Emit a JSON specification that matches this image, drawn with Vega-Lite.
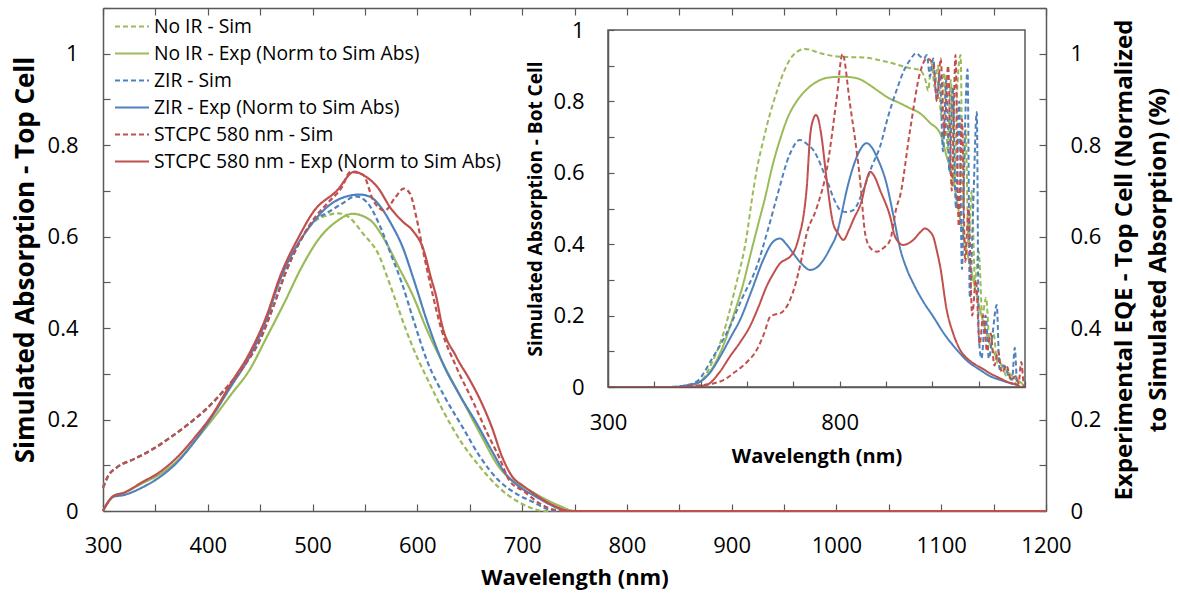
{
  "$schema": "https://vega.github.io/schema/vega-lite/v6.json",
  "width": 943,
  "height": 503,
  "autosize": {"type": "none"},
  "padding": {"left": 103, "top": 8, "right": 134, "bottom": 86},
  "background": "white",
  "config": {
    "view": {"stroke": null},
    "font": "Open Sans",
    "axis": {"grid": false, "labelFont": "Open Sans", "labelFontSize": 22, "labelColor": "#000", "domainColor": "#595959", "domainWidth": 1.5, "tickColor": "#595959", "tickWidth": 1.2, "titleFont": "Open Sans", "titleFontWeight": "bold", "titleColor": "#000", "labelOverlap": false, "labelFlush": false},
    "legend": {"orient": "none", "legendX": 11, "legendY": 5, "labelFont": "Open Sans", "labelFontSize": 19.3, "labelColor": "#000", "symbolType": "stroke", "symbolSize": 1156, "symbolStrokeWidth": 2, "labelOffset": 4, "clipHeight": 27, "rowPadding": 0, "padding": 0, "labelLimit": 600}
  },
  "datasets": {
    "frame": [{"x": 300, "x2": 1200, "y": 0, "y2": 1}],
    "top": [
      {"s": "No IR - Sim", "x": 300, "y": 0.051}, {"s": "No IR - Sim", "x": 305, "y": 0.077}, {"s": "No IR - Sim", "x": 313, "y": 0.095}, {"s": "No IR - Sim", "x": 330, "y": 0.114}, {"s": "No IR - Sim", "x": 348, "y": 0.136}, {"s": "No IR - Sim", "x": 365, "y": 0.162}, {"s": "No IR - Sim", "x": 382, "y": 0.191}, {"s": "No IR - Sim", "x": 399, "y": 0.224}, {"s": "No IR - Sim", "x": 416, "y": 0.265}, {"s": "No IR - Sim", "x": 433, "y": 0.312}, {"s": "No IR - Sim", "x": 450, "y": 0.375}, {"s": "No IR - Sim", "x": 463, "y": 0.45}, {"s": "No IR - Sim", "x": 474, "y": 0.52}, {"s": "No IR - Sim", "x": 487, "y": 0.585}, {"s": "No IR - Sim", "x": 500, "y": 0.63},
      {"s": "No IR - Sim", "x": 512, "y": 0.645}, {"s": "No IR - Sim", "x": 525, "y": 0.651}, {"s": "No IR - Sim", "x": 535, "y": 0.642}, {"s": "No IR - Sim", "x": 548, "y": 0.607}, {"s": "No IR - Sim", "x": 564, "y": 0.556}, {"s": "No IR - Sim", "x": 572, "y": 0.507}, {"s": "No IR - Sim", "x": 579, "y": 0.462}, {"s": "No IR - Sim", "x": 589, "y": 0.397}, {"s": "No IR - Sim", "x": 600, "y": 0.335}, {"s": "No IR - Sim", "x": 610, "y": 0.287}, {"s": "No IR - Sim", "x": 626, "y": 0.213}, {"s": "No IR - Sim", "x": 643, "y": 0.147}, {"s": "No IR - Sim", "x": 660, "y": 0.096}, {"s": "No IR - Sim", "x": 678, "y": 0.051}, {"s": "No IR - Sim", "x": 695, "y": 0.022}, {"s": "No IR - Sim", "x": 712, "y": 0.004}, {"s": "No IR - Sim", "x": 720, "y": 0}, {"s": "No IR - Sim", "x": 1200, "y": 0},

      {"s": "No IR - Exp (Norm to Sim Abs)", "x": 300, "y": 0}, {"s": "No IR - Exp (Norm to Sim Abs)", "x": 305, "y": 0.02}, {"s": "No IR - Exp (Norm to Sim Abs)", "x": 310, "y": 0.033}, {"s": "No IR - Exp (Norm to Sim Abs)", "x": 320, "y": 0.04}, {"s": "No IR - Exp (Norm to Sim Abs)", "x": 337, "y": 0.06}, {"s": "No IR - Exp (Norm to Sim Abs)", "x": 354, "y": 0.08}, {"s": "No IR - Exp (Norm to Sim Abs)", "x": 371, "y": 0.11}, {"s": "No IR - Exp (Norm to Sim Abs)", "x": 388, "y": 0.154}, {"s": "No IR - Exp (Norm to Sim Abs)", "x": 405, "y": 0.202}, {"s": "No IR - Exp (Norm to Sim Abs)", "x": 422, "y": 0.254}, {"s": "No IR - Exp (Norm to Sim Abs)", "x": 440, "y": 0.309}, {"s": "No IR - Exp (Norm to Sim Abs)", "x": 456, "y": 0.379}, {"s": "No IR - Exp (Norm to Sim Abs)", "x": 473, "y": 0.455}, {"s": "No IR - Exp (Norm to Sim Abs)", "x": 490, "y": 0.535}, {"s": "No IR - Exp (Norm to Sim Abs)", "x": 507, "y": 0.598}, {"s": "No IR - Exp (Norm to Sim Abs)", "x": 524, "y": 0.635}, {"s": "No IR - Exp (Norm to Sim Abs)", "x": 538, "y": 0.65}, {"s": "No IR - Exp (Norm to Sim Abs)", "x": 555, "y": 0.636}, {"s": "No IR - Exp (Norm to Sim Abs)", "x": 569, "y": 0.592}, {"s": "No IR - Exp (Norm to Sim Abs)", "x": 582, "y": 0.534}, {"s": "No IR - Exp (Norm to Sim Abs)", "x": 596, "y": 0.47}, {"s": "No IR - Exp (Norm to Sim Abs)", "x": 609, "y": 0.397}, {"s": "No IR - Exp (Norm to Sim Abs)", "x": 626, "y": 0.316}, {"s": "No IR - Exp (Norm to Sim Abs)", "x": 643, "y": 0.243}, {"s": "No IR - Exp (Norm to Sim Abs)", "x": 660, "y": 0.169}, {"s": "No IR - Exp (Norm to Sim Abs)", "x": 678, "y": 0.096}, {"s": "No IR - Exp (Norm to Sim Abs)", "x": 691, "y": 0.066}, {"s": "No IR - Exp (Norm to Sim Abs)", "x": 705, "y": 0.048}, {"s": "No IR - Exp (Norm to Sim Abs)", "x": 722, "y": 0.026}, {"s": "No IR - Exp (Norm to Sim Abs)", "x": 735, "y": 0.012}, {"s": "No IR - Exp (Norm to Sim Abs)", "x": 750, "y": 0}, {"s": "No IR - Exp (Norm to Sim Abs)", "x": 1200, "y": 0},

      {"s": "ZIR - Sim", "x": 300, "y": 0.051}, {"s": "ZIR - Sim", "x": 305, "y": 0.077}, {"s": "ZIR - Sim", "x": 313, "y": 0.095}, {"s": "ZIR - Sim", "x": 330, "y": 0.114}, {"s": "ZIR - Sim", "x": 348, "y": 0.136}, {"s": "ZIR - Sim", "x": 365, "y": 0.162}, {"s": "ZIR - Sim", "x": 382, "y": 0.191}, {"s": "ZIR - Sim", "x": 399, "y": 0.224}, {"s": "ZIR - Sim", "x": 416, "y": 0.265}, {"s": "ZIR - Sim", "x": 433, "y": 0.312}, {"s": "ZIR - Sim", "x": 450, "y": 0.375}, {"s": "ZIR - Sim", "x": 463, "y": 0.45}, {"s": "ZIR - Sim", "x": 474, "y": 0.52}, {"s": "ZIR - Sim", "x": 487, "y": 0.585}, {"s": "ZIR - Sim", "x": 500, "y": 0.632},
      {"s": "ZIR - Sim", "x": 514, "y": 0.652}, {"s": "ZIR - Sim", "x": 528, "y": 0.672}, {"s": "ZIR - Sim", "x": 541, "y": 0.688}, {"s": "ZIR - Sim", "x": 552, "y": 0.675}, {"s": "ZIR - Sim", "x": 564, "y": 0.625}, {"s": "ZIR - Sim", "x": 575, "y": 0.56}, {"s": "ZIR - Sim", "x": 585, "y": 0.5}, {"s": "ZIR - Sim", "x": 596, "y": 0.42}, {"s": "ZIR - Sim", "x": 609, "y": 0.33}, {"s": "ZIR - Sim", "x": 626, "y": 0.25}, {"s": "ZIR - Sim", "x": 643, "y": 0.184}, {"s": "ZIR - Sim", "x": 660, "y": 0.118}, {"s": "ZIR - Sim", "x": 678, "y": 0.066}, {"s": "ZIR - Sim", "x": 695, "y": 0.037}, {"s": "ZIR - Sim", "x": 712, "y": 0.018}, {"s": "ZIR - Sim", "x": 722, "y": 0.006}, {"s": "ZIR - Sim", "x": 730, "y": 0}, {"s": "ZIR - Sim", "x": 1200, "y": 0},

      {"s": "ZIR - Exp (Norm to Sim Abs)", "x": 300, "y": 0}, {"s": "ZIR - Exp (Norm to Sim Abs)", "x": 305, "y": 0.02}, {"s": "ZIR - Exp (Norm to Sim Abs)", "x": 310, "y": 0.031}, {"s": "ZIR - Exp (Norm to Sim Abs)", "x": 320, "y": 0.035}, {"s": "ZIR - Exp (Norm to Sim Abs)", "x": 337, "y": 0.051}, {"s": "ZIR - Exp (Norm to Sim Abs)", "x": 354, "y": 0.074}, {"s": "ZIR - Exp (Norm to Sim Abs)", "x": 371, "y": 0.107}, {"s": "ZIR - Exp (Norm to Sim Abs)", "x": 388, "y": 0.154}, {"s": "ZIR - Exp (Norm to Sim Abs)", "x": 405, "y": 0.21}, {"s": "ZIR - Exp (Norm to Sim Abs)", "x": 422, "y": 0.272}, {"s": "ZIR - Exp (Norm to Sim Abs)", "x": 440, "y": 0.338}, {"s": "ZIR - Exp (Norm to Sim Abs)", "x": 456, "y": 0.419}, {"s": "ZIR - Exp (Norm to Sim Abs)", "x": 468, "y": 0.5}, {"s": "ZIR - Exp (Norm to Sim Abs)", "x": 480, "y": 0.56}, {"s": "ZIR - Exp (Norm to Sim Abs)", "x": 497, "y": 0.621}, {"s": "ZIR - Exp (Norm to Sim Abs)", "x": 514, "y": 0.665}, {"s": "ZIR - Exp (Norm to Sim Abs)", "x": 531, "y": 0.687}, {"s": "ZIR - Exp (Norm to Sim Abs)", "x": 545, "y": 0.692}, {"s": "ZIR - Exp (Norm to Sim Abs)", "x": 555, "y": 0.687}, {"s": "ZIR - Exp (Norm to Sim Abs)", "x": 565, "y": 0.665}, {"s": "ZIR - Exp (Norm to Sim Abs)", "x": 575, "y": 0.628}, {"s": "ZIR - Exp (Norm to Sim Abs)", "x": 586, "y": 0.577}, {"s": "ZIR - Exp (Norm to Sim Abs)", "x": 596, "y": 0.51}, {"s": "ZIR - Exp (Norm to Sim Abs)", "x": 610, "y": 0.41}, {"s": "ZIR - Exp (Norm to Sim Abs)", "x": 623, "y": 0.33}, {"s": "ZIR - Exp (Norm to Sim Abs)", "x": 640, "y": 0.255}, {"s": "ZIR - Exp (Norm to Sim Abs)", "x": 657, "y": 0.19}, {"s": "ZIR - Exp (Norm to Sim Abs)", "x": 671, "y": 0.132}, {"s": "ZIR - Exp (Norm to Sim Abs)", "x": 684, "y": 0.082}, {"s": "ZIR - Exp (Norm to Sim Abs)", "x": 698, "y": 0.052}, {"s": "ZIR - Exp (Norm to Sim Abs)", "x": 712, "y": 0.033}, {"s": "ZIR - Exp (Norm to Sim Abs)", "x": 725, "y": 0.016}, {"s": "ZIR - Exp (Norm to Sim Abs)", "x": 745, "y": 0}, {"s": "ZIR - Exp (Norm to Sim Abs)", "x": 1200, "y": 0},

      {"s": "STCPC 580 nm - Sim", "x": 300, "y": 0.051}, {"s": "STCPC 580 nm - Sim", "x": 305, "y": 0.077}, {"s": "STCPC 580 nm - Sim", "x": 313, "y": 0.095}, {"s": "STCPC 580 nm - Sim", "x": 330, "y": 0.114}, {"s": "STCPC 580 nm - Sim", "x": 348, "y": 0.136}, {"s": "STCPC 580 nm - Sim", "x": 365, "y": 0.162}, {"s": "STCPC 580 nm - Sim", "x": 382, "y": 0.191}, {"s": "STCPC 580 nm - Sim", "x": 399, "y": 0.224}, {"s": "STCPC 580 nm - Sim", "x": 416, "y": 0.265}, {"s": "STCPC 580 nm - Sim", "x": 433, "y": 0.312}, {"s": "STCPC 580 nm - Sim", "x": 450, "y": 0.375}, {"s": "STCPC 580 nm - Sim", "x": 463, "y": 0.45}, {"s": "STCPC 580 nm - Sim", "x": 474, "y": 0.52}, {"s": "STCPC 580 nm - Sim", "x": 487, "y": 0.585}, {"s": "STCPC 580 nm - Sim", "x": 500, "y": 0.635},
      {"s": "STCPC 580 nm - Sim", "x": 515, "y": 0.675}, {"s": "STCPC 580 nm - Sim", "x": 528, "y": 0.708}, {"s": "STCPC 580 nm - Sim", "x": 536, "y": 0.741}, {"s": "STCPC 580 nm - Sim", "x": 548, "y": 0.736}, {"s": "STCPC 580 nm - Sim", "x": 558, "y": 0.679}, {"s": "STCPC 580 nm - Sim", "x": 569, "y": 0.657}, {"s": "STCPC 580 nm - Sim", "x": 579, "y": 0.686}, {"s": "STCPC 580 nm - Sim", "x": 587, "y": 0.705}, {"s": "STCPC 580 nm - Sim", "x": 593, "y": 0.694}, {"s": "STCPC 580 nm - Sim", "x": 599, "y": 0.643}, {"s": "STCPC 580 nm - Sim", "x": 606, "y": 0.563}, {"s": "STCPC 580 nm - Sim", "x": 613, "y": 0.49}, {"s": "STCPC 580 nm - Sim", "x": 623, "y": 0.397}, {"s": "STCPC 580 nm - Sim", "x": 637, "y": 0.316}, {"s": "STCPC 580 nm - Sim", "x": 654, "y": 0.235}, {"s": "STCPC 580 nm - Sim", "x": 667, "y": 0.169}, {"s": "STCPC 580 nm - Sim", "x": 678, "y": 0.118}, {"s": "STCPC 580 nm - Sim", "x": 688, "y": 0.066}, {"s": "STCPC 580 nm - Sim", "x": 701, "y": 0.044}, {"s": "STCPC 580 nm - Sim", "x": 718, "y": 0.015}, {"s": "STCPC 580 nm - Sim", "x": 730, "y": 0.003}, {"s": "STCPC 580 nm - Sim", "x": 740, "y": 0}, {"s": "STCPC 580 nm - Sim", "x": 1200, "y": 0},

      {"s": "STCPC 580 nm - Exp  (Norm to Sim Abs)", "x": 300, "y": 0}, {"s": "STCPC 580 nm - Exp  (Norm to Sim Abs)", "x": 305, "y": 0.02}, {"s": "STCPC 580 nm - Exp  (Norm to Sim Abs)", "x": 310, "y": 0.033}, {"s": "STCPC 580 nm - Exp  (Norm to Sim Abs)", "x": 320, "y": 0.04}, {"s": "STCPC 580 nm - Exp  (Norm to Sim Abs)", "x": 337, "y": 0.0625}, {"s": "STCPC 580 nm - Exp  (Norm to Sim Abs)", "x": 354, "y": 0.085}, {"s": "STCPC 580 nm - Exp  (Norm to Sim Abs)", "x": 371, "y": 0.118}, {"s": "STCPC 580 nm - Exp  (Norm to Sim Abs)", "x": 388, "y": 0.162}, {"s": "STCPC 580 nm - Exp  (Norm to Sim Abs)", "x": 405, "y": 0.213}, {"s": "STCPC 580 nm - Exp  (Norm to Sim Abs)", "x": 422, "y": 0.279}, {"s": "STCPC 580 nm - Exp  (Norm to Sim Abs)", "x": 440, "y": 0.346}, {"s": "STCPC 580 nm - Exp  (Norm to Sim Abs)", "x": 456, "y": 0.426}, {"s": "STCPC 580 nm - Exp  (Norm to Sim Abs)", "x": 469, "y": 0.513}, {"s": "STCPC 580 nm - Exp  (Norm to Sim Abs)", "x": 487, "y": 0.6}, {"s": "STCPC 580 nm - Exp  (Norm to Sim Abs)", "x": 501, "y": 0.655}, {"s": "STCPC 580 nm - Exp  (Norm to Sim Abs)", "x": 523, "y": 0.7}, {"s": "STCPC 580 nm - Exp  (Norm to Sim Abs)", "x": 540, "y": 0.742}, {"s": "STCPC 580 nm - Exp  (Norm to Sim Abs)", "x": 548, "y": 0.735}, {"s": "STCPC 580 nm - Exp  (Norm to Sim Abs)", "x": 562, "y": 0.708}, {"s": "STCPC 580 nm - Exp  (Norm to Sim Abs)", "x": 575, "y": 0.661}, {"s": "STCPC 580 nm - Exp  (Norm to Sim Abs)", "x": 586, "y": 0.633}, {"s": "STCPC 580 nm - Exp  (Norm to Sim Abs)", "x": 596, "y": 0.612}, {"s": "STCPC 580 nm - Exp  (Norm to Sim Abs)", "x": 606, "y": 0.571}, {"s": "STCPC 580 nm - Exp  (Norm to Sim Abs)", "x": 613, "y": 0.51}, {"s": "STCPC 580 nm - Exp  (Norm to Sim Abs)", "x": 618, "y": 0.469}, {"s": "STCPC 580 nm - Exp  (Norm to Sim Abs)", "x": 623, "y": 0.412}, {"s": "STCPC 580 nm - Exp  (Norm to Sim Abs)", "x": 637, "y": 0.338}, {"s": "STCPC 580 nm - Exp  (Norm to Sim Abs)", "x": 650, "y": 0.287}, {"s": "STCPC 580 nm - Exp  (Norm to Sim Abs)", "x": 660, "y": 0.243}, {"s": "STCPC 580 nm - Exp  (Norm to Sim Abs)", "x": 671, "y": 0.184}, {"s": "STCPC 580 nm - Exp  (Norm to Sim Abs)", "x": 681, "y": 0.118}, {"s": "STCPC 580 nm - Exp  (Norm to Sim Abs)", "x": 691, "y": 0.074}, {"s": "STCPC 580 nm - Exp  (Norm to Sim Abs)", "x": 701, "y": 0.055}, {"s": "STCPC 580 nm - Exp  (Norm to Sim Abs)", "x": 712, "y": 0.037}, {"s": "STCPC 580 nm - Exp  (Norm to Sim Abs)", "x": 725, "y": 0.018}, {"s": "STCPC 580 nm - Exp  (Norm to Sim Abs)", "x": 735, "y": 0.007}, {"s": "STCPC 580 nm - Exp  (Norm to Sim Abs)", "x": 745, "y": 0}, {"s": "STCPC 580 nm - Exp  (Norm to Sim Abs)", "x": 1200, "y": 0}
    ],
    "bot": [
      {"s": "No IR - Sim", "x": 300, "y": 0}, {"s": "No IR - Sim", "x": 430, "y": 0}, {"s": "No IR - Sim", "x": 470, "y": 0.003}, {"s": "No IR - Sim", "x": 499, "y": 0.015}, {"s": "No IR - Sim", "x": 525, "y": 0.07}, {"s": "No IR - Sim", "x": 549, "y": 0.15}, {"s": "No IR - Sim", "x": 575, "y": 0.28}, {"s": "No IR - Sim", "x": 599, "y": 0.42}, {"s": "No IR - Sim", "x": 610, "y": 0.52}, {"s": "No IR - Sim", "x": 621, "y": 0.608}, {"s": "No IR - Sim", "x": 635, "y": 0.69}, {"s": "No IR - Sim", "x": 650, "y": 0.767}, {"s": "No IR - Sim", "x": 665, "y": 0.83}, {"s": "No IR - Sim", "x": 678, "y": 0.878}, {"s": "No IR - Sim", "x": 700, "y": 0.93}, {"s": "No IR - Sim", "x": 725, "y": 0.947}, {"s": "No IR - Sim", "x": 758, "y": 0.935}, {"s": "No IR - Sim", "x": 800, "y": 0.925}, {"s": "No IR - Sim", "x": 851, "y": 0.923}, {"s": "No IR - Sim", "x": 901, "y": 0.911}, {"s": "No IR - Sim", "x": 952, "y": 0.893}, {"s": "No IR - Sim", "x": 973, "y": 0.888}, {"s": "No IR - Sim", "x": 985, "y": 0.86}, {"s": "No IR - Sim", "x": 991, "y": 0.83}, {"s": "No IR - Sim", "x": 998, "y": 0.91}, {"s": "No IR - Sim", "x": 1005, "y": 0.84}, {"s": "No IR - Sim", "x": 1012, "y": 0.9}, {"s": "No IR - Sim", "x": 1019, "y": 0.76}, {"s": "No IR - Sim", "x": 1026, "y": 0.88}, {"s": "No IR - Sim", "x": 1033, "y": 0.66}, {"s": "No IR - Sim", "x": 1040, "y": 0.86}, {"s": "No IR - Sim", "x": 1047, "y": 0.56}, {"s": "No IR - Sim", "x": 1054, "y": 0.84}, {"s": "No IR - Sim", "x": 1061, "y": 0.93}, {"s": "No IR - Sim", "x": 1066, "y": 0.5}, {"s": "No IR - Sim", "x": 1072, "y": 0.72}, {"s": "No IR - Sim", "x": 1078, "y": 0.4}, {"s": "No IR - Sim", "x": 1085, "y": 0.55}, {"s": "No IR - Sim", "x": 1092, "y": 0.3}, {"s": "No IR - Sim", "x": 1100, "y": 0.38}, {"s": "No IR - Sim", "x": 1108, "y": 0.2}, {"s": "No IR - Sim", "x": 1116, "y": 0.25}, {"s": "No IR - Sim", "x": 1124, "y": 0.12}, {"s": "No IR - Sim", "x": 1132, "y": 0.15}, {"s": "No IR - Sim", "x": 1140, "y": 0.07}, {"s": "No IR - Sim", "x": 1150, "y": 0.06}, {"s": "No IR - Sim", "x": 1160, "y": 0.03}, {"s": "No IR - Sim", "x": 1170, "y": 0.025}, {"s": "No IR - Sim", "x": 1180, "y": 0.01}, {"s": "No IR - Sim", "x": 1190, "y": 0.005}, {"s": "No IR - Sim", "x": 1200, "y": 0},

      {"s": "No IR - Exp (Norm to Sim Abs)", "x": 300, "y": 0}, {"s": "No IR - Exp (Norm to Sim Abs)", "x": 440, "y": 0}, {"s": "No IR - Exp (Norm to Sim Abs)", "x": 490, "y": 0.01}, {"s": "No IR - Exp (Norm to Sim Abs)", "x": 527, "y": 0.057}, {"s": "No IR - Exp (Norm to Sim Abs)", "x": 550, "y": 0.12}, {"s": "No IR - Exp (Norm to Sim Abs)", "x": 570, "y": 0.197}, {"s": "No IR - Exp (Norm to Sim Abs)", "x": 590, "y": 0.28}, {"s": "No IR - Exp (Norm to Sim Abs)", "x": 610, "y": 0.384}, {"s": "No IR - Exp (Norm to Sim Abs)", "x": 625, "y": 0.46}, {"s": "No IR - Exp (Norm to Sim Abs)", "x": 639, "y": 0.53}, {"s": "No IR - Exp (Norm to Sim Abs)", "x": 655, "y": 0.62}, {"s": "No IR - Exp (Norm to Sim Abs)", "x": 671, "y": 0.692}, {"s": "No IR - Exp (Norm to Sim Abs)", "x": 688, "y": 0.755}, {"s": "No IR - Exp (Norm to Sim Abs)", "x": 707, "y": 0.8}, {"s": "No IR - Exp (Norm to Sim Abs)", "x": 730, "y": 0.835}, {"s": "No IR - Exp (Norm to Sim Abs)", "x": 758, "y": 0.86}, {"s": "No IR - Exp (Norm to Sim Abs)", "x": 785, "y": 0.868}, {"s": "No IR - Exp (Norm to Sim Abs)", "x": 808, "y": 0.869}, {"s": "No IR - Exp (Norm to Sim Abs)", "x": 837, "y": 0.865}, {"s": "No IR - Exp (Norm to Sim Abs)", "x": 860, "y": 0.85}, {"s": "No IR - Exp (Norm to Sim Abs)", "x": 880, "y": 0.832}, {"s": "No IR - Exp (Norm to Sim Abs)", "x": 905, "y": 0.81}, {"s": "No IR - Exp (Norm to Sim Abs)", "x": 930, "y": 0.795}, {"s": "No IR - Exp (Norm to Sim Abs)", "x": 950, "y": 0.782}, {"s": "No IR - Exp (Norm to Sim Abs)", "x": 973, "y": 0.767}, {"s": "No IR - Exp (Norm to Sim Abs)", "x": 995, "y": 0.74}, {"s": "No IR - Exp (Norm to Sim Abs)", "x": 1017, "y": 0.71}, {"s": "No IR - Exp (Norm to Sim Abs)", "x": 1030, "y": 0.65}, {"s": "No IR - Exp (Norm to Sim Abs)", "x": 1045, "y": 0.58}, {"s": "No IR - Exp (Norm to Sim Abs)", "x": 1060, "y": 0.47}, {"s": "No IR - Exp (Norm to Sim Abs)", "x": 1074, "y": 0.384}, {"s": "No IR - Exp (Norm to Sim Abs)", "x": 1090, "y": 0.29}, {"s": "No IR - Exp (Norm to Sim Abs)", "x": 1103, "y": 0.216}, {"s": "No IR - Exp (Norm to Sim Abs)", "x": 1124, "y": 0.123}, {"s": "No IR - Exp (Norm to Sim Abs)", "x": 1140, "y": 0.08}, {"s": "No IR - Exp (Norm to Sim Abs)", "x": 1153, "y": 0.057}, {"s": "No IR - Exp (Norm to Sim Abs)", "x": 1174, "y": 0.029}, {"s": "No IR - Exp (Norm to Sim Abs)", "x": 1196, "y": 0.006}, {"s": "No IR - Exp (Norm to Sim Abs)", "x": 1200, "y": 0},

      {"s": "ZIR - Sim", "x": 300, "y": 0}, {"s": "ZIR - Sim", "x": 420, "y": 0}, {"s": "ZIR - Sim", "x": 460, "y": 0.003}, {"s": "ZIR - Sim", "x": 491, "y": 0.015}, {"s": "ZIR - Sim", "x": 525, "y": 0.08}, {"s": "ZIR - Sim", "x": 563, "y": 0.169}, {"s": "ZIR - Sim", "x": 590, "y": 0.25}, {"s": "ZIR - Sim", "x": 621, "y": 0.337}, {"s": "ZIR - Sim", "x": 645, "y": 0.44}, {"s": "ZIR - Sim", "x": 664, "y": 0.53}, {"s": "ZIR - Sim", "x": 693, "y": 0.654}, {"s": "ZIR - Sim", "x": 714, "y": 0.692}, {"s": "ZIR - Sim", "x": 730, "y": 0.68}, {"s": "ZIR - Sim", "x": 743, "y": 0.664}, {"s": "ZIR - Sim", "x": 772, "y": 0.58}, {"s": "ZIR - Sim", "x": 790, "y": 0.52}, {"s": "ZIR - Sim", "x": 801, "y": 0.496}, {"s": "ZIR - Sim", "x": 815, "y": 0.49}, {"s": "ZIR - Sim", "x": 830, "y": 0.496}, {"s": "ZIR - Sim", "x": 851, "y": 0.552}, {"s": "ZIR - Sim", "x": 870, "y": 0.62}, {"s": "ZIR - Sim", "x": 887, "y": 0.673}, {"s": "ZIR - Sim", "x": 905, "y": 0.76}, {"s": "ZIR - Sim", "x": 923, "y": 0.832}, {"s": "ZIR - Sim", "x": 940, "y": 0.89}, {"s": "ZIR - Sim", "x": 952, "y": 0.916}, {"s": "ZIR - Sim", "x": 965, "y": 0.935}, {"s": "ZIR - Sim", "x": 975, "y": 0.925}, {"s": "ZIR - Sim", "x": 982, "y": 0.92}, {"s": "ZIR - Sim", "x": 988, "y": 0.93}, {"s": "ZIR - Sim", "x": 995, "y": 0.87}, {"s": "ZIR - Sim", "x": 1002, "y": 0.92}, {"s": "ZIR - Sim", "x": 1009, "y": 0.81}, {"s": "ZIR - Sim", "x": 1016, "y": 0.88}, {"s": "ZIR - Sim", "x": 1023, "y": 0.66}, {"s": "ZIR - Sim", "x": 1030, "y": 0.86}, {"s": "ZIR - Sim", "x": 1037, "y": 0.6}, {"s": "ZIR - Sim", "x": 1044, "y": 0.84}, {"s": "ZIR - Sim", "x": 1051, "y": 0.5}, {"s": "ZIR - Sim", "x": 1058, "y": 0.8}, {"s": "ZIR - Sim", "x": 1064, "y": 0.33}, {"s": "ZIR - Sim", "x": 1070, "y": 0.7}, {"s": "ZIR - Sim", "x": 1076, "y": 0.89}, {"s": "ZIR - Sim", "x": 1081, "y": 0.25}, {"s": "ZIR - Sim", "x": 1088, "y": 0.5}, {"s": "ZIR - Sim", "x": 1096, "y": 0.77}, {"s": "ZIR - Sim", "x": 1100, "y": 0.15}, {"s": "ZIR - Sim", "x": 1106, "y": 0.08}, {"s": "ZIR - Sim", "x": 1115, "y": 0.2}, {"s": "ZIR - Sim", "x": 1122, "y": 0.08}, {"s": "ZIR - Sim", "x": 1130, "y": 0.15}, {"s": "ZIR - Sim", "x": 1139, "y": 0.23}, {"s": "ZIR - Sim", "x": 1145, "y": 0.05}, {"s": "ZIR - Sim", "x": 1155, "y": 0.06}, {"s": "ZIR - Sim", "x": 1165, "y": 0.03}, {"s": "ZIR - Sim", "x": 1172, "y": 0.02}, {"s": "ZIR - Sim", "x": 1178, "y": 0.11}, {"s": "ZIR - Sim", "x": 1183, "y": 0.01}, {"s": "ZIR - Sim", "x": 1190, "y": 0}, {"s": "ZIR - Sim", "x": 1200, "y": 0},

      {"s": "ZIR - Exp (Norm to Sim Abs)", "x": 300, "y": 0}, {"s": "ZIR - Exp (Norm to Sim Abs)", "x": 440, "y": 0}, {"s": "ZIR - Exp (Norm to Sim Abs)", "x": 470, "y": 0.005}, {"s": "ZIR - Exp (Norm to Sim Abs)", "x": 499, "y": 0.015}, {"s": "ZIR - Exp (Norm to Sim Abs)", "x": 520, "y": 0.04}, {"s": "ZIR - Exp (Norm to Sim Abs)", "x": 542, "y": 0.085}, {"s": "ZIR - Exp (Norm to Sim Abs)", "x": 565, "y": 0.14}, {"s": "ZIR - Exp (Norm to Sim Abs)", "x": 585, "y": 0.188}, {"s": "ZIR - Exp (Norm to Sim Abs)", "x": 610, "y": 0.27}, {"s": "ZIR - Exp (Norm to Sim Abs)", "x": 635, "y": 0.356}, {"s": "ZIR - Exp (Norm to Sim Abs)", "x": 655, "y": 0.405}, {"s": "ZIR - Exp (Norm to Sim Abs)", "x": 671, "y": 0.416}, {"s": "ZIR - Exp (Norm to Sim Abs)", "x": 685, "y": 0.4}, {"s": "ZIR - Exp (Norm to Sim Abs)", "x": 700, "y": 0.374}, {"s": "ZIR - Exp (Norm to Sim Abs)", "x": 718, "y": 0.345}, {"s": "ZIR - Exp (Norm to Sim Abs)", "x": 736, "y": 0.328}, {"s": "ZIR - Exp (Norm to Sim Abs)", "x": 750, "y": 0.334}, {"s": "ZIR - Exp (Norm to Sim Abs)", "x": 765, "y": 0.356}, {"s": "ZIR - Exp (Norm to Sim Abs)", "x": 780, "y": 0.39}, {"s": "ZIR - Exp (Norm to Sim Abs)", "x": 794, "y": 0.43}, {"s": "ZIR - Exp (Norm to Sim Abs)", "x": 805, "y": 0.49}, {"s": "ZIR - Exp (Norm to Sim Abs)", "x": 815, "y": 0.55}, {"s": "ZIR - Exp (Norm to Sim Abs)", "x": 830, "y": 0.62}, {"s": "ZIR - Exp (Norm to Sim Abs)", "x": 844, "y": 0.664}, {"s": "ZIR - Exp (Norm to Sim Abs)", "x": 858, "y": 0.683}, {"s": "ZIR - Exp (Norm to Sim Abs)", "x": 870, "y": 0.67}, {"s": "ZIR - Exp (Norm to Sim Abs)", "x": 880, "y": 0.645}, {"s": "ZIR - Exp (Norm to Sim Abs)", "x": 901, "y": 0.57}, {"s": "ZIR - Exp (Norm to Sim Abs)", "x": 916, "y": 0.48}, {"s": "ZIR - Exp (Norm to Sim Abs)", "x": 930, "y": 0.39}, {"s": "ZIR - Exp (Norm to Sim Abs)", "x": 945, "y": 0.33}, {"s": "ZIR - Exp (Norm to Sim Abs)", "x": 959, "y": 0.29}, {"s": "ZIR - Exp (Norm to Sim Abs)", "x": 980, "y": 0.24}, {"s": "ZIR - Exp (Norm to Sim Abs)", "x": 1002, "y": 0.197}, {"s": "ZIR - Exp (Norm to Sim Abs)", "x": 1025, "y": 0.15}, {"s": "ZIR - Exp (Norm to Sim Abs)", "x": 1053, "y": 0.104}, {"s": "ZIR - Exp (Norm to Sim Abs)", "x": 1078, "y": 0.07}, {"s": "ZIR - Exp (Norm to Sim Abs)", "x": 1103, "y": 0.048}, {"s": "ZIR - Exp (Norm to Sim Abs)", "x": 1125, "y": 0.03}, {"s": "ZIR - Exp (Norm to Sim Abs)", "x": 1146, "y": 0.02}, {"s": "ZIR - Exp (Norm to Sim Abs)", "x": 1170, "y": 0.01}, {"s": "ZIR - Exp (Norm to Sim Abs)", "x": 1182, "y": 0.006}, {"s": "ZIR - Exp (Norm to Sim Abs)", "x": 1190, "y": 0}, {"s": "ZIR - Exp (Norm to Sim Abs)", "x": 1200, "y": 0},

      {"s": "STCPC 580 nm - Sim", "x": 300, "y": 0}, {"s": "STCPC 580 nm - Sim", "x": 440, "y": 0}, {"s": "STCPC 580 nm - Sim", "x": 480, "y": 0.003}, {"s": "STCPC 580 nm - Sim", "x": 527, "y": 0.01}, {"s": "STCPC 580 nm - Sim", "x": 550, "y": 0.02}, {"s": "STCPC 580 nm - Sim", "x": 570, "y": 0.038}, {"s": "STCPC 580 nm - Sim", "x": 600, "y": 0.07}, {"s": "STCPC 580 nm - Sim", "x": 621, "y": 0.104}, {"s": "STCPC 580 nm - Sim", "x": 637, "y": 0.15}, {"s": "STCPC 580 nm - Sim", "x": 650, "y": 0.197}, {"s": "STCPC 580 nm - Sim", "x": 660, "y": 0.203}, {"s": "STCPC 580 nm - Sim", "x": 671, "y": 0.206}, {"s": "STCPC 580 nm - Sim", "x": 693, "y": 0.244}, {"s": "STCPC 580 nm - Sim", "x": 705, "y": 0.29}, {"s": "STCPC 580 nm - Sim", "x": 714, "y": 0.337}, {"s": "STCPC 580 nm - Sim", "x": 729, "y": 0.43}, {"s": "STCPC 580 nm - Sim", "x": 750, "y": 0.5}, {"s": "STCPC 580 nm - Sim", "x": 772, "y": 0.608}, {"s": "STCPC 580 nm - Sim", "x": 794, "y": 0.813}, {"s": "STCPC 580 nm - Sim", "x": 806, "y": 0.933}, {"s": "STCPC 580 nm - Sim", "x": 822, "y": 0.795}, {"s": "STCPC 580 nm - Sim", "x": 844, "y": 0.58}, {"s": "STCPC 580 nm - Sim", "x": 855, "y": 0.43}, {"s": "STCPC 580 nm - Sim", "x": 866, "y": 0.39}, {"s": "STCPC 580 nm - Sim", "x": 880, "y": 0.379}, {"s": "STCPC 580 nm - Sim", "x": 895, "y": 0.39}, {"s": "STCPC 580 nm - Sim", "x": 909, "y": 0.412}, {"s": "STCPC 580 nm - Sim", "x": 923, "y": 0.505}, {"s": "STCPC 580 nm - Sim", "x": 930, "y": 0.533}, {"s": "STCPC 580 nm - Sim", "x": 952, "y": 0.72}, {"s": "STCPC 580 nm - Sim", "x": 973, "y": 0.878}, {"s": "STCPC 580 nm - Sim", "x": 988, "y": 0.92}, {"s": "STCPC 580 nm - Sim", "x": 1002, "y": 0.906}, {"s": "STCPC 580 nm - Sim", "x": 1010, "y": 0.8}, {"s": "STCPC 580 nm - Sim", "x": 1018, "y": 0.92}, {"s": "STCPC 580 nm - Sim", "x": 1026, "y": 0.7}, {"s": "STCPC 580 nm - Sim", "x": 1034, "y": 0.9}, {"s": "STCPC 580 nm - Sim", "x": 1042, "y": 0.55}, {"s": "STCPC 580 nm - Sim", "x": 1050, "y": 0.93}, {"s": "STCPC 580 nm - Sim", "x": 1057, "y": 0.45}, {"s": "STCPC 580 nm - Sim", "x": 1064, "y": 0.75}, {"s": "STCPC 580 nm - Sim", "x": 1071, "y": 0.35}, {"s": "STCPC 580 nm - Sim", "x": 1078, "y": 0.5}, {"s": "STCPC 580 nm - Sim", "x": 1086, "y": 0.2}, {"s": "STCPC 580 nm - Sim", "x": 1094, "y": 0.3}, {"s": "STCPC 580 nm - Sim", "x": 1102, "y": 0.12}, {"s": "STCPC 580 nm - Sim", "x": 1110, "y": 0.2}, {"s": "STCPC 580 nm - Sim", "x": 1118, "y": 0.1}, {"s": "STCPC 580 nm - Sim", "x": 1126, "y": 0.15}, {"s": "STCPC 580 nm - Sim", "x": 1134, "y": 0.06}, {"s": "STCPC 580 nm - Sim", "x": 1142, "y": 0.1}, {"s": "STCPC 580 nm - Sim", "x": 1150, "y": 0.04}, {"s": "STCPC 580 nm - Sim", "x": 1160, "y": 0.06}, {"s": "STCPC 580 nm - Sim", "x": 1170, "y": 0.02}, {"s": "STCPC 580 nm - Sim", "x": 1180, "y": 0.03}, {"s": "STCPC 580 nm - Sim", "x": 1186, "y": 0.01}, {"s": "STCPC 580 nm - Sim", "x": 1192, "y": 0.07}, {"s": "STCPC 580 nm - Sim", "x": 1197, "y": 0.01}, {"s": "STCPC 580 nm - Sim", "x": 1200, "y": 0},

      {"s": "STCPC 580 nm - Exp  (Norm to Sim Abs)", "x": 300, "y": 0}, {"s": "STCPC 580 nm - Exp  (Norm to Sim Abs)", "x": 450, "y": 0}, {"s": "STCPC 580 nm - Exp  (Norm to Sim Abs)", "x": 490, "y": 0.002}, {"s": "STCPC 580 nm - Exp  (Norm to Sim Abs)", "x": 513, "y": 0.006}, {"s": "STCPC 580 nm - Exp  (Norm to Sim Abs)", "x": 540, "y": 0.04}, {"s": "STCPC 580 nm - Exp  (Norm to Sim Abs)", "x": 563, "y": 0.085}, {"s": "STCPC 580 nm - Exp  (Norm to Sim Abs)", "x": 585, "y": 0.125}, {"s": "STCPC 580 nm - Exp  (Norm to Sim Abs)", "x": 606, "y": 0.169}, {"s": "STCPC 580 nm - Exp  (Norm to Sim Abs)", "x": 625, "y": 0.225}, {"s": "STCPC 580 nm - Exp  (Norm to Sim Abs)", "x": 642, "y": 0.281}, {"s": "STCPC 580 nm - Exp  (Norm to Sim Abs)", "x": 658, "y": 0.32}, {"s": "STCPC 580 nm - Exp  (Norm to Sim Abs)", "x": 671, "y": 0.346}, {"s": "STCPC 580 nm - Exp  (Norm to Sim Abs)", "x": 685, "y": 0.358}, {"s": "STCPC 580 nm - Exp  (Norm to Sim Abs)", "x": 693, "y": 0.365}, {"s": "STCPC 580 nm - Exp  (Norm to Sim Abs)", "x": 705, "y": 0.39}, {"s": "STCPC 580 nm - Exp  (Norm to Sim Abs)", "x": 714, "y": 0.43}, {"s": "STCPC 580 nm - Exp  (Norm to Sim Abs)", "x": 722, "y": 0.48}, {"s": "STCPC 580 nm - Exp  (Norm to Sim Abs)", "x": 729, "y": 0.56}, {"s": "STCPC 580 nm - Exp  (Norm to Sim Abs)", "x": 736, "y": 0.7}, {"s": "STCPC 580 nm - Exp  (Norm to Sim Abs)", "x": 743, "y": 0.75}, {"s": "STCPC 580 nm - Exp  (Norm to Sim Abs)", "x": 749, "y": 0.762}, {"s": "STCPC 580 nm - Exp  (Norm to Sim Abs)", "x": 755, "y": 0.745}, {"s": "STCPC 580 nm - Exp  (Norm to Sim Abs)", "x": 761, "y": 0.7}, {"s": "STCPC 580 nm - Exp  (Norm to Sim Abs)", "x": 772, "y": 0.58}, {"s": "STCPC 580 nm - Exp  (Norm to Sim Abs)", "x": 786, "y": 0.458}, {"s": "STCPC 580 nm - Exp  (Norm to Sim Abs)", "x": 797, "y": 0.43}, {"s": "STCPC 580 nm - Exp  (Norm to Sim Abs)", "x": 808, "y": 0.412}, {"s": "STCPC 580 nm - Exp  (Norm to Sim Abs)", "x": 820, "y": 0.44}, {"s": "STCPC 580 nm - Exp  (Norm to Sim Abs)", "x": 830, "y": 0.47}, {"s": "STCPC 580 nm - Exp  (Norm to Sim Abs)", "x": 848, "y": 0.524}, {"s": "STCPC 580 nm - Exp  (Norm to Sim Abs)", "x": 858, "y": 0.58}, {"s": "STCPC 580 nm - Exp  (Norm to Sim Abs)", "x": 866, "y": 0.603}, {"s": "STCPC 580 nm - Exp  (Norm to Sim Abs)", "x": 875, "y": 0.59}, {"s": "STCPC 580 nm - Exp  (Norm to Sim Abs)", "x": 887, "y": 0.552}, {"s": "STCPC 580 nm - Exp  (Norm to Sim Abs)", "x": 909, "y": 0.477}, {"s": "STCPC 580 nm - Exp  (Norm to Sim Abs)", "x": 920, "y": 0.42}, {"s": "STCPC 580 nm - Exp  (Norm to Sim Abs)", "x": 937, "y": 0.398}, {"s": "STCPC 580 nm - Exp  (Norm to Sim Abs)", "x": 959, "y": 0.412}, {"s": "STCPC 580 nm - Exp  (Norm to Sim Abs)", "x": 975, "y": 0.435}, {"s": "STCPC 580 nm - Exp  (Norm to Sim Abs)", "x": 984, "y": 0.444}, {"s": "STCPC 580 nm - Exp  (Norm to Sim Abs)", "x": 995, "y": 0.435}, {"s": "STCPC 580 nm - Exp  (Norm to Sim Abs)", "x": 1002, "y": 0.421}, {"s": "STCPC 580 nm - Exp  (Norm to Sim Abs)", "x": 1010, "y": 0.38}, {"s": "STCPC 580 nm - Exp  (Norm to Sim Abs)", "x": 1017, "y": 0.337}, {"s": "STCPC 580 nm - Exp  (Norm to Sim Abs)", "x": 1031, "y": 0.216}, {"s": "STCPC 580 nm - Exp  (Norm to Sim Abs)", "x": 1045, "y": 0.15}, {"s": "STCPC 580 nm - Exp  (Norm to Sim Abs)", "x": 1060, "y": 0.104}, {"s": "STCPC 580 nm - Exp  (Norm to Sim Abs)", "x": 1075, "y": 0.08}, {"s": "STCPC 580 nm - Exp  (Norm to Sim Abs)", "x": 1089, "y": 0.066}, {"s": "STCPC 580 nm - Exp  (Norm to Sim Abs)", "x": 1110, "y": 0.05}, {"s": "STCPC 580 nm - Exp  (Norm to Sim Abs)", "x": 1125, "y": 0.038}, {"s": "STCPC 580 nm - Exp  (Norm to Sim Abs)", "x": 1145, "y": 0.025}, {"s": "STCPC 580 nm - Exp  (Norm to Sim Abs)", "x": 1161, "y": 0.015}, {"s": "STCPC 580 nm - Exp  (Norm to Sim Abs)", "x": 1182, "y": 0.006}, {"s": "STCPC 580 nm - Exp  (Norm to Sim Abs)", "x": 1190, "y": 0}, {"s": "STCPC 580 nm - Exp  (Norm to Sim Abs)", "x": 1200, "y": 0}
    ]
  },
  "layer": [
    {
      "data": {"name": "top"},
      "mark": {"type": "line", "strokeWidth": 2.2, "interpolate": "monotone"},
      "encoding": {
        "x": {"field": "x", "type": "quantitative", "scale": {"domain": [300, 1200], "nice": false, "zero": false},
          "axis": {"orient": "bottom", "values": [300, 350, 400, 450, 500, 550, 600, 650, 700, 750, 800, 850, 900, 950, 1000, 1050, 1100, 1150, 1200], "format": "d", "labelExpr": "datum.value % 100 === 0 ? datum.label : ''", "tickSize": -7, "labelPadding": 31, "title": "Wavelength (nm)", "titleFontSize": 22, "titlePadding": 11}},
        "y": {"field": "y", "type": "quantitative", "scale": {"domain": [0, 1.1], "nice": false},
          "axis": {"orient": "left", "values": [0, 0.1, 0.2, 0.3, 0.4, 0.5, 0.6, 0.7, 0.8, 0.9, 1, 1.1], "labelExpr": "round(datum.value * 10) % 2 === 0 ? format(datum.value, '.1~f') : ''", "tickSize": -7, "labelPadding": 32, "title": "Simulated Absorption - Top Cell", "titleFontSize": 26, "titlePadding": 9}},
        "color": {"field": "s", "type": "nominal", "legend": {"title": null},
          "scale": {"domain": ["No IR - Sim", "No IR - Exp (Norm to Sim Abs)", "ZIR - Sim", "ZIR - Exp (Norm to Sim Abs)", "STCPC 580 nm - Sim", "STCPC 580 nm - Exp  (Norm to Sim Abs)"], "range": ["#9BBB59", "#9BBB59", "#4F81BD", "#4F81BD", "#C0504D", "#C0504D"]}},
        "strokeDash": {"field": "s", "type": "nominal", "legend": {"title": null},
          "scale": {"domain": ["No IR - Sim", "No IR - Exp (Norm to Sim Abs)", "ZIR - Sim", "ZIR - Exp (Norm to Sim Abs)", "STCPC 580 nm - Sim", "STCPC 580 nm - Exp  (Norm to Sim Abs)"], "range": [[5, 3], [1, 0], [5, 3], [1, 0], [5, 3], [1, 0]]}}
      }
    },
    {
      "data": {"name": "frame"},
      "mark": {"type": "point", "opacity": 0},
      "encoding": {
        "y": {"field": "y", "type": "quantitative", "scale": {"domain": [0, 1.1], "nice": false},
          "axis": {"orient": "right", "values": [0, 0.1, 0.2, 0.3, 0.4, 0.5, 0.6, 0.7, 0.8, 0.9, 1, 1.1], "labelExpr": "round(datum.value * 10) % 2 === 0 ? format(datum.value, '.1~f') : ''", "tickSize": -7, "labelPadding": 31, "title": ["Experimental EQE - Top Cell (Normalized", "to Simulated Absorption) (%)"], "titleFontSize": 24, "titleAngle": 270, "titleBaseline": "top", "titleLineHeight": 34, "titlePadding": -22}}
      }
    },
    {
      "data": {"name": "frame"},
      "mark": {"type": "point", "opacity": 0},
      "encoding": {
        "x": {"field": "x", "type": "quantitative", "scale": {"domain": [300, 1200], "nice": false, "zero": false},
          "axis": {"orient": "top", "values": [300, 350, 400, 450, 500, 550, 600, 650, 700, 750, 800, 850, 900, 950, 1000, 1050, 1100, 1150, 1200], "labels": false, "tickSize": -7, "title": null}}
      }
    },
    {
      "data": {"name": "frame"},
      "mark": {"type": "rect", "fill": "white", "stroke": "#595959", "strokeWidth": 1.5},
      "encoding": {
        "x": {"field": "x", "type": "quantitative", "scale": {"domain": [300, 1200], "range": [505, 922], "nice": false, "zero": false}, "axis": null},
        "x2": {"field": "x2"},
        "y": {"field": "y", "type": "quantitative", "scale": {"domain": [0, 1], "range": [379, 22], "nice": false}, "axis": null},
        "y2": {"field": "y2"}
      }
    },
    {
      "data": {"name": "bot"},
      "mark": {"type": "line", "strokeWidth": 2, "interpolate": "monotone"},
      "encoding": {
        "x": {"field": "x", "type": "quantitative", "scale": {"domain": [300, 1200], "range": [505, 922], "nice": false, "zero": false},
          "axis": {"orient": "bottom", "offset": -124, "zindex": 1, "values": [300, 400, 500, 600, 700, 800, 900, 1000, 1100, 1200], "format": "d", "labelExpr": "datum.value === 300 || datum.value === 800 ? datum.label : ''", "tickSize": -6, "labelPadding": 31, "title": "Wavelength (nm)", "titleFontSize": 20, "titlePadding": 13}},
        "y": {"field": "y", "type": "quantitative", "scale": {"domain": [0, 1], "range": [379, 22], "nice": false},
          "axis": {"orient": "left", "offset": -505, "zindex": 1, "values": [0, 0.1, 0.2, 0.3, 0.4, 0.5, 0.6, 0.7, 0.8, 0.9, 1], "labelExpr": "round(datum.value * 10) % 2 === 0 ? format(datum.value, '.1~f') : ''", "tickSize": -6, "labelPadding": 30, "title": "Simulated Absorption - Bot Cell", "titleFontSize": 19, "titlePadding": 8}},
        "color": {"field": "s", "type": "nominal", "legend": {"title": null},
          "scale": {"domain": ["No IR - Sim", "No IR - Exp (Norm to Sim Abs)", "ZIR - Sim", "ZIR - Exp (Norm to Sim Abs)", "STCPC 580 nm - Sim", "STCPC 580 nm - Exp  (Norm to Sim Abs)"], "range": ["#9BBB59", "#9BBB59", "#4F81BD", "#4F81BD", "#C0504D", "#C0504D"]}},
        "strokeDash": {"field": "s", "type": "nominal", "legend": {"title": null},
          "scale": {"domain": ["No IR - Sim", "No IR - Exp (Norm to Sim Abs)", "ZIR - Sim", "ZIR - Exp (Norm to Sim Abs)", "STCPC 580 nm - Sim", "STCPC 580 nm - Exp  (Norm to Sim Abs)"], "range": [[5, 3], [1, 0], [5, 3], [1, 0], [5, 3], [1, 0]]}}
      }
    }
  ],
  "resolve": {"scale": {"x": "independent", "y": "independent"}}
}
